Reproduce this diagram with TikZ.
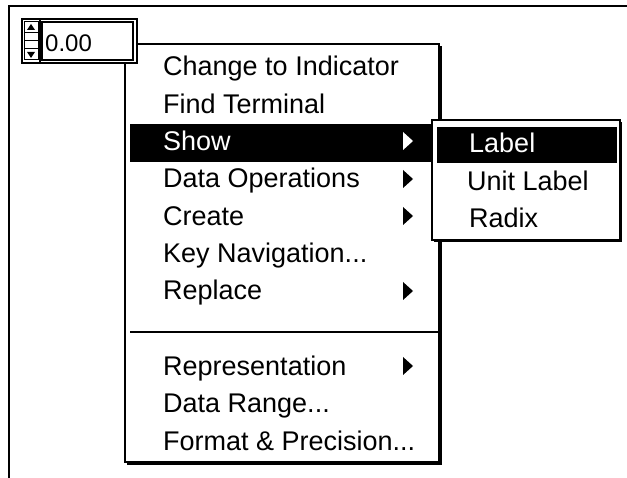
\documentclass[tikz,border=0pt]{standalone}
\usepackage{fontspec}
\setmainfont{Liberation Sans}
\begin{document}
\begin{tikzpicture}[x=1pt,y=-1pt,
  item/.style={anchor=base west,inner sep=0pt,font=\fontsize{27}{29}\selectfont},
  itemw/.style={item,text=white},
  frame/.style={line width=2pt},
  box/.style={draw=black,fill=white,line width=1.2pt}]
\useasboundingbox (0,0) rectangle (627,478);
% outer frame
\draw[frame] (9,478) -- (9,6.5) -- (627,6.5);
% main menu
\coordinate (mnw) at (125,44);
\coordinate (mse) at (439,462);
\fill[black] (127,46) rectangle (441.5,464.5);
\draw[box] (mnw) rectangle (mse);
% show highlight
\fill[black] (130,124) rectangle (436,162);
% items
\node[item] (i1) at (163,76) {Change to Indicator};
\node[item] (i2) at (163,113.3) {Find Terminal};
\node[itemw] (i3) at (163,150.6) {Show};
\node[item] (i4) at (163,187.9) {Data Operations};
\node[item] (i5) at (163,225.2) {Create};
\node[item] (i6) at (163,262.5) {Key Navigation...};
\node[item] (i7) at (163,299.8) {Replace};
\draw[line width=1.2pt] (130,332) -- (439,332);
\node[item] (i8) at (163,376) {Representation};
\node[item] (i9) at (163,413) {Data Range...};
\node[item] (i10) at (163,450) {Format \& Precision...};
% arrows
\foreach \y/\c in {141/white,179/black,216/black,291/black,366/black}
  \fill[\c] (403,\y-9) -- (413,\y) -- (403,\y+9) -- cycle;
% submenu
\fill[black] (434,122) rectangle (622,242);
\draw[box] (432,120) rectangle (620,240);
\fill[black] (437,127) rectangle (617,163);
\node[itemw] (s1) at (469,153) {Label};
\node[item] (s2) at (467,191) {Unit Label};
\node[item] (s3) at (469,228) {Radix};
% numeric control
\draw[box] (22,19) rectangle (137,63);
\draw[line width=1.2pt] (40,19) -- (40,63);
\draw[line width=1.2pt] (42,22) rectangle (133,60);
\draw[line width=1pt] (24,22) rectangle (38,60);
\draw[line width=1pt] (24,33) -- (38,33) (24,41) -- (38,41) (24,49) -- (38,49);
\fill (27,30) -- (31,24) -- (35,30) -- cycle;
\fill (27,52) -- (31,58) -- (35,52) -- cycle;
\node[item,font=\fontsize{24}{26}\selectfont] (num) at (45,52) {0.00};
\end{tikzpicture}
\end{document}
